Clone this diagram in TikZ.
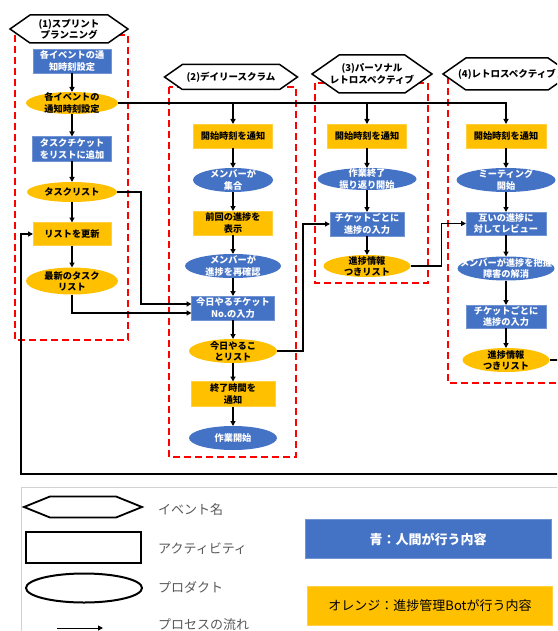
\documentclass[tikz,border=0pt]{standalone}
\usepackage{fontspec}
\setmainfont{Noto Sans CJK JP}
\usetikzlibrary{shapes.geometric,shapes.symbols,arrows.meta}
\definecolor{blu}{HTML}{4472C4}
\definecolor{org}{HTML}{FFC000}
\definecolor{lgray}{HTML}{595959}
\tikzset{
 base/.style={inner sep=0pt, outer sep=0pt},
 bbox/.style={base, rectangle, fill=blu, draw=blu!75!white, line width=0.6pt},
 obox/.style={base, rectangle, fill=org, draw=org!75!white, line width=0.6pt},
 bell/.style={base, ellipse, fill=blu},
 oell/.style={base, ellipse, fill=org},
 wt/.style={align=center, text=white, font=\bfseries\fontsize{9.2}{11.2}\selectfont, inner sep=0pt},
 bk/.style={align=center, text=black, font=\bfseries\fontsize{9.2}{11.2}\selectfont, inner sep=0pt},
 hexa/.style={base, shape=signal, signal to=east and west, signal pointer angle=70, draw=black, line width=1.5pt, fill=white},
 zone/.style={draw=red, line width=1.4pt, dash pattern=on 7pt off 4pt},
 flow/.style={draw=black, line width=1.3pt, -{Triangle[length=5pt,width=5pt]}},
 wire/.style={draw=black, line width=1.3pt},
 lgtxt/.style={anchor=west, inner sep=0pt, text=lgray, font=\fontsize{13}{15}\selectfont},
}
\begin{document}
\begin{tikzpicture}[x=1pt,y=-1pt]
\useasboundingbox (0,0) rectangle (557,631);
\clip (0,0) rectangle (557,631);
\fill[white] (0,0) rectangle (557,631);

% zones
\draw[zone] (15,35) rectangle (128,340);
\draw[zone] (169,87) rectangle (296,457);
\draw[zone] (315,83) rectangle (428,283);
\draw[zone] (448,77) rectangle (600,383);

% hexagons
\node[hexa, minimum width=118pt, minimum height=28pt, label={[bk, font=\bfseries\fontsize{9.5}{11}\selectfont]center:{(1)スプリント\\プランニング}}] (h1) at (69,29) {};
\node[hexa, minimum width=133pt, minimum height=25pt, label={[bk, font=\bfseries\fontsize{9.5}{11}\selectfont]center:{(2)デイリースクラム}}] (h2) at (231,77) {};
\node[hexa, minimum width=120pt, minimum height=38pt, label={[bk, font=\bfseries\fontsize{9.5}{11.5}\selectfont]center:{(3)パーソナル\\レトロスペクティブ}}] (h3) at (372,74) {};
\node[hexa, minimum width=128pt, minimum height=32pt, label={[bk, font=\bfseries\fontsize{9.5}{11}\selectfont]center:{(4)レトロスペクティブ}}] (h4) at (507,74) {};

% column 1
\node[bbox, minimum width=78pt, minimum height=24pt, label={[wt]center:{各イベントの通\\知時刻設定}}] (b1) at (72,61) {};
\node[oell, minimum width=92pt, minimum height=22pt, label={[bk]center:{各イベントの\\通知時刻設定}}] (e1) at (72,103) {};
\node[bbox, minimum width=79pt, minimum height=25pt, label={[wt]center:{タスクチケット\\をリストに追加}}] (b2) at (72,149) {};
\node[oell, minimum width=90pt, minimum height=20pt, label={[bk]center:{タスクリスト}}] (e2) at (72,192) {};
\node[obox, minimum width=78pt, minimum height=23pt, label={[bk]center:{リストを更新}}] (o1) at (72,234) {};
\node[oell, minimum width=92pt, minimum height=27pt, label={[bk]center:{最新のタスク\\リスト}}] (e3) at (72,281) {};

% column 2
\node[obox, minimum width=79pt, minimum height=24pt, label={[bk]center:{開始時刻を通知}}] (s2) at (233,136) {};
\node[bell, minimum width=80pt, minimum height=24pt, label={[wt]center:{メンバーが\\集合}}] (m1) at (233,180) {};
\node[obox, minimum width=79pt, minimum height=24pt, label={[bk]center:{前回の進捗を\\表示}}] (p1) at (233,223) {};
\node[bell, minimum width=96pt, minimum height=24pt, label={[wt]center:{メンバーが\\進捗を再確認}}] (m2) at (233,266) {};
\node[bbox, minimum width=83pt, minimum height=24pt, label={[wt]center:{今日やるチケット\\No.の入力}}] (t2) at (233,308) {};
\node[oell, minimum width=88pt, minimum height=24pt, label={[bk]center:{今日やるこ\\とリスト}}] (d1) at (233,351) {};
\node[obox, minimum width=84pt, minimum height=25pt, label={[bk]center:{終了時間を\\通知}}] (f1) at (233,394) {};
\node[bell, minimum width=88pt, minimum height=24pt, label={[wt]center:{作業開始}}] (w1) at (233,438) {};

% column 3
\node[obox, minimum width=79pt, minimum height=24pt, label={[bk]center:{開始時刻を通知}}] (s3) at (367,136) {};
\node[bell, minimum width=99pt, minimum height=22pt, label={[wt]center:{作業終了\\振り返り開始}}] (m3) at (367,179) {};
\node[bbox, minimum width=74pt, minimum height=24pt, label={[wt]center:{チケットごとに\\進捗の入力}}] (r3) at (367,224) {};
\node[oell, minimum width=87pt, minimum height=22pt, label={[bk]center:{進捗情報\\つきリスト}}] (l3) at (367,266) {};

% column 4
\node[obox, minimum width=80pt, minimum height=24pt, label={[bk]center:{開始時刻を通知}}] (s4) at (506,136) {};
\node[bell, minimum width=99pt, minimum height=24pt, label={[wt]center:{ミーティング\\開始}}] (m4) at (506,180) {};
\node[bbox, minimum width=80pt, minimum height=23pt, label={[wt]center:{互いの進捗に\\対してレビュー}}] (v4) at (506,223.5) {};
\node[bell, minimum width=97pt, minimum height=24pt, label={[wt]center:{メンバーが進捗を把握\\障害の解消}}] (m5) at (506,268.5) {};
\node[bbox, minimum width=80pt, minimum height=23pt, label={[wt]center:{チケットごとに\\進捗の入力}}] (r4) at (506,316.5) {};
\node[oell, minimum width=87pt, minimum height=24pt, label={[bk]center:{進捗情報\\つきリスト}}] (f6) at (506,360) {};

% connectors column 1
\draw[flow] (b1.south) -- (e1.north);
\draw[flow] (e1.south) -- (b2.north);
\draw[flow] (b2.south) -- (e2.north);
\draw[flow] (e2.south) -- (o1.north);
\draw[flow] (o1.south) -- (e3.north);
% distribution line
\draw[flow] (e1.east) -| (s4.north);
\draw[flow] (e1.east -| s2.north) -- (s2.north);
\draw[flow] (e1.east -| s3.north) -- (s3.north);
% to today's ticket input
\draw[flow] (e2.east) -- ++(24,0) |- ([yshift=4pt]t2.west);
\draw[flow] (e3.south) |- ([yshift=-5pt]t2.west);
% column 2
\draw[flow] (s2.south) -- (m1.north);
\draw[flow] (m1.south) -- (p1.north);
\draw[flow] (p1.south) -- (m2.north);
\draw[flow] (m2.south) -- (t2.north);
\draw[flow] (t2.south) -- (d1.north);
\draw[flow] (d1.south) -- (f1.north);
\draw[flow] (f1.south) -- (w1.north);
\draw[flow] (d1.east) -- ++(26,0) |- (r3.west);
% column 3
\draw[flow] (s3.south) -- (m3.north);
\draw[flow] (m3.south) -- (r3.north);
\draw[flow] (r3.south) -- (l3.north);
\draw[flow] (l3.east) -- ++(31,0) |- (v4.west);
% column 4
\draw[flow] (s4.south) -- (m4.north);
\draw[flow] (m4.south) -- (v4.north);
\draw[flow] (v4.south) -- (m5.north);
\draw[flow] (m5.south) -- (r4.north);
\draw[flow] (r4.south) -- (f6.north);
% feedback
\draw[flow] (f6.east) -- ++(40,0) |- (21,474) |- (o1.west);

% legend
\draw[draw=gray!35, line width=1pt] (21,487) rectangle (600,700);
\node[base, shape=signal, signal to=east and west, signal pointer angle=44, draw=black, line width=1.8pt, minimum width=118pt, minimum height=21pt] (lh) at (83,507) {};
\node[base, rectangle, draw=black, line width=2pt, minimum width=115pt, minimum height=31pt] (lr) at (83,547) {};
\node[base, ellipse, draw=black, line width=2pt, minimum width=116pt, minimum height=29pt] (le) at (84,588) {};
\coordinate (la1) at (57,628);
\coordinate (la2) at (103,628);
\draw[flow, line width=1pt] (la1) -- (la2);
\node[lgtxt] (lt1) at (158,510) {イベント名};
\node[lgtxt] (lt2) at (158,549) {アクティビティ};
\node[lgtxt] (lt3) at (158,587) {プロダクト};
\node[lgtxt] (lt4) at (158,625) {プロセスの流れ};
\node[bbox, minimum width=246pt, minimum height=39pt, label={[wt, font=\bfseries\fontsize{13}{15}\selectfont]center:{青：人間が行う内容}}] (lb) at (428,539) {};
\node[obox, minimum width=245pt, minimum height=39pt, label={[bk, font=\fontsize{13}{15}\selectfont]center:{オレンジ：進捗管理Botが行う内容}}] (lo) at (430,606) {};
\end{tikzpicture}
\end{document}
